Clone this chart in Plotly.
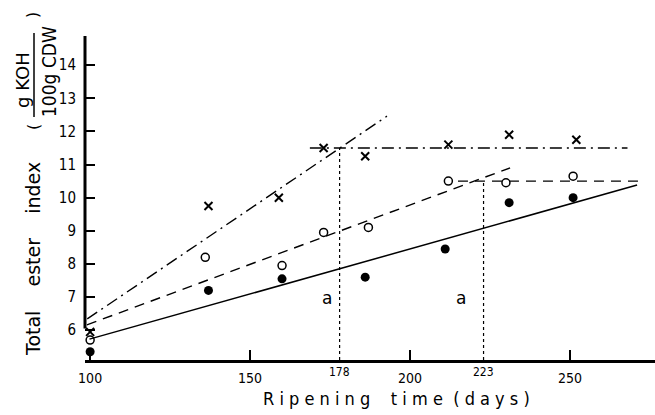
import plotly.graph_objects as go

# ---- data ----
cross_days = [100, 137, 159, 173, 186, 212, 231, 252]
cross_vals = [5.95, 9.75, 10.0, 11.5, 11.25, 11.6, 11.9, 11.75]

circle_days = [100, 136, 160, 173, 187, 212, 230, 251]
circle_vals = [5.7, 8.2, 7.95, 8.95, 9.1, 10.5, 10.45, 10.65]

dot_days = [100, 137, 160, 186, 211, 231, 251]
dot_vals = [5.35, 7.2, 7.55, 7.6, 8.45, 9.85, 10.0]

# fitted lines (end points)
solid_x = [99.8, 271]
solid_y = [5.73, 10.38]
dash_x = [99, 231.3]
dash_y = [6.16, 10.9]
dash_flat_x = [215, 271.6]
dash_flat_y = [10.5, 10.5]
dashdot_x = [99.1, 192.8]
dashdot_y = [6.34, 12.46]
dashdot_flat_x = [168.7, 268]
dashdot_flat_y = [11.5, 11.5]

break_days = [178, 223]
break_vals = [11.5, 10.5]
break_labels = ["178", "223"]
a_days = [174, 216]
a_val = 6.97

x_tickvals = [100, 150, 200, 250]
y_tickvals = [6, 7, 8, 9, 10, 11, 12, 13, 14]

XMIN, XMAX = 98.4, 276.6
YMIN, YMAX = 5.10, 14.88

FONT = "Liberation Sans Narrow, DejaVu Sans Condensed, Arial Narrow, sans-serif"
BLK = "black"

fig = go.Figure()

def line(x, y, dash, width=1.4):
    fig.add_trace(go.Scatter(x=x, y=y, mode="lines",
                             line=dict(color=BLK, width=width, dash=dash),
                             showlegend=False, hoverinfo="skip"))

line(solid_x, solid_y, "solid", 1.5)
line(dash_x, dash_y, "10px,7px")
line(dash_flat_x, dash_flat_y, "10px,7px")
line(dashdot_x, dashdot_y, "12px,5px,2px,5px")
line(dashdot_flat_x, dashdot_flat_y, "12px,5px,2px,5px")

for d, v in zip(break_days, break_vals):
    line([d, d], [YMIN, v], "dot", 1.2)

fig.add_trace(go.Scatter(x=cross_days, y=cross_vals, mode="markers",
                         marker=dict(symbol="x-thin", size=8, line=dict(color=BLK, width=2)),
                         showlegend=False))
fig.add_trace(go.Scatter(x=circle_days, y=circle_vals, mode="markers",
                         marker=dict(symbol="circle-open", size=8, color=BLK, line=dict(color=BLK, width=1.5)),
                         showlegend=False))
fig.add_trace(go.Scatter(x=dot_days, y=dot_vals, mode="markers",
                         marker=dict(symbol="circle", size=9, color=BLK),
                         showlegend=False))

# y axis line (broken near the bottom as in the reference)
fig.add_shape(type="line", xref="paper", yref="y", x0=0, x1=0, y0=6.05, y1=YMAX,
              line=dict(color=BLK, width=3))

def px_x(p):
    return (p - 85) / 570

def px_y(p):
    return (360 - p) / 324

annotations = []
for d, t in zip(break_days, break_labels):
    annotations.append(dict(x=d, y=px_y(372), xref="x", yref="paper", text=t, showarrow=False,
                            xanchor="center", yanchor="middle",
                            font=dict(family=FONT, size=12, color=BLK)))
for d in a_days:
    annotations.append(dict(x=d, y=a_val, xref="x", yref="y", text="a", showarrow=False,
                            xanchor="center", yanchor="middle",
                            font=dict(family="DejaVu Sans", size=17, color=BLK)))

# axis titles
annotations.append(dict(x=px_x(396), y=px_y(398), xref="paper", yref="paper",
                        xanchor="center", yanchor="middle",
                        text="R i p e n i n g&nbsp;&nbsp;&nbsp; t i m e&nbsp; ( d a y s )",
                        showarrow=False, font=dict(family=FONT, size=18, color=BLK)))
annotations.append(dict(x=px_x(33), y=px_y(259), xref="paper", yref="paper", textangle=-90,
                        xanchor="center", yanchor="middle",
                        text="Total&nbsp;&nbsp;&nbsp; ester&nbsp;&nbsp;&nbsp; index", showarrow=False,
                        font=dict(family="DejaVu Sans", size=19, color=BLK)))
# unit fraction
annotations.append(dict(x=px_x(22), y=px_y(80), xref="paper", yref="paper",
                        xanchor="center", yanchor="middle",
                        textangle=-90, text="g KOH", showarrow=False,
                        font=dict(family="DejaVu Sans", size=18, color=BLK)))
annotations.append(dict(x=px_x(49), y=px_y(72), xref="paper", yref="paper",
                        xanchor="center", yanchor="middle",
                        textangle=-90, text="100g CDW", showarrow=False,
                        font=dict(family=FONT, size=19, color=BLK)))
annotations.append(dict(x=px_x(33), y=px_y(127), xref="paper", yref="paper",
                        xanchor="center", yanchor="middle",
                        textangle=-90, text="(", showarrow=False,
                        font=dict(family="DejaVu Sans", size=16, color=BLK)))
annotations.append(dict(x=px_x(33), y=px_y(15), xref="paper", yref="paper",
                        xanchor="center", yanchor="middle",
                        textangle=-90, text=")", showarrow=False,
                        font=dict(family="DejaVu Sans", size=16, color=BLK)))
fig.add_shape(type="line", xref="paper", yref="paper",
              x0=px_x(34), x1=px_x(34), y0=px_y(117), y1=px_y(33),
              line=dict(color=BLK, width=1.5))

fig.update_layout(
    width=655, height=415,
    margin=dict(l=85, r=0, t=36, b=55),
    paper_bgcolor="white", plot_bgcolor="white",
    showlegend=False,
    annotations=annotations,
    xaxis=dict(range=[XMIN, XMAX], tickvals=x_tickvals, ticks="inside", ticklen=10,
               tickwidth=1.5, tickcolor=BLK, showline=True, linecolor=BLK, linewidth=3,
               showgrid=False, zeroline=False, ticklabelstandoff=3,
               tickfont=dict(family=FONT, size=14, color=BLK)),
    yaxis=dict(range=[YMIN, YMAX], tickvals=y_tickvals, ticks="inside", ticklen=10,
               tickwidth=1.5, tickcolor=BLK, showline=False,
               showgrid=False, zeroline=False, ticklabelstandoff=8,
               tickfont=dict(family=FONT, size=15, color=BLK)),
)

fig.write_html("out.html", config={"displayModeBar": False},
               post_script="document.body.style.margin='0';")
